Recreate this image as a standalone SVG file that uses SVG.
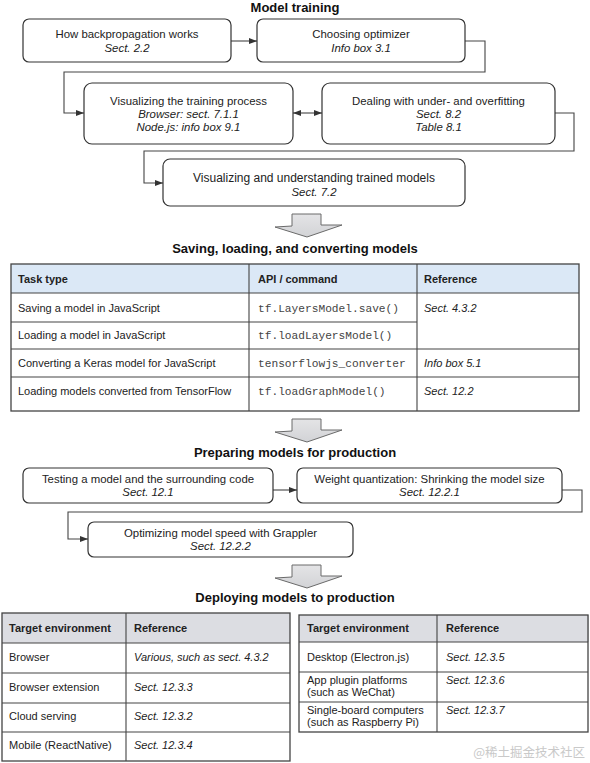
<svg xmlns="http://www.w3.org/2000/svg" width="590" height="763" viewBox="0 0 590 763">
<defs>
<marker id="ah" markerWidth="8" markerHeight="6" refX="8" refY="3" orient="auto" markerUnits="userSpaceOnUse">
<path d="M0,0 L8,3 L0,6 Z" fill="#333"/>
</marker>
<marker id="ahs" markerWidth="8" markerHeight="6" refX="0" refY="3" orient="auto" markerUnits="userSpaceOnUse">
<path d="M8,0 L0,3 L8,6 Z" fill="#333"/>
</marker>
<linearGradient id="bg" x1="0" y1="0" x2="0" y2="1">
<stop offset="0" stop-color="#e4e4e6"/>
<stop offset="1" stop-color="#d2d3d6"/>
</linearGradient>
</defs>
<style>
text{font-family:"Liberation Sans",Arial,sans-serif;font-size:11px;fill:#222}
.t{font-weight:bold;font-size:13px;text-anchor:middle;fill:#111}
.c{text-anchor:middle;font-size:11.4px}
.i{font-style:italic}
.b{font-weight:bold}
.m{font-family:"Liberation Mono","Courier New",monospace;font-size:11.2px;fill:#444}
.box{fill:#fff;stroke:#333;stroke-width:1.2}
.con{fill:none;stroke:#444;stroke-width:1.1}
.grid{fill:none;stroke:#444;stroke-width:1.1}
.big{fill:url(#bg);stroke:#6a6a6a;stroke-width:1}
</style>
<rect width="590" height="763" fill="#fff"/>

<text class="t" x="295" y="12">Model training</text>
<text class="t" x="295" y="253">Saving, loading, and converting models</text>
<text class="t" x="295" y="457">Preparing models for production</text>
<text class="t" x="295" y="602">Deploying models to production</text>

<g id="connectors">
<path class="con" d="M231,41 H257" marker-end="url(#ah)"/>
<path class="con" d="M465,41 H485 V72 H64 V113 H84" marker-end="url(#ah)"/>
<path class="con" d="M293,113 H322" marker-start="url(#ahs)" marker-end="url(#ah)"/>
<path class="con" d="M555,113 H574 V151 H144 V183 H163" marker-end="url(#ah)"/>
<path class="con" d="M273,490 H297" marker-end="url(#ah)"/>
<path class="con" d="M562,490 H582 V512 H68 V539 H88" marker-end="url(#ah)"/>
</g>

<g id="n1"><rect class="box" x="23" y="19" width="208" height="43" rx="6"/>
<text class="c" x="127" y="38">How backpropagation works</text>
<text class="c i" x="127" y="52">Sect. 2.2</text></g>

<g id="n2"><rect class="box" x="257" y="19" width="208" height="43" rx="6"/>
<text class="c" x="361" y="38">Choosing optimizer</text>
<text class="c i" x="361" y="52">Info box 3.1</text></g>

<g id="n3"><rect class="box" x="84" y="83" width="209" height="61" rx="8"/>
<text class="c" x="188.5" y="105">Visualizing the training process</text>
<text class="c i" x="188.5" y="118">Browser: sect. 7.1.1</text>
<text class="c i" x="188.5" y="131">Node.js: info box 9.1</text></g>

<g id="n4"><rect class="box" x="322" y="83" width="233" height="61" rx="8"/>
<text class="c" x="438.5" y="105">Dealing with under- and overfitting</text>
<text class="c i" x="438.5" y="118">Sect. 8.2</text>
<text class="c i" x="438.5" y="131">Table 8.1</text></g>

<g id="n5"><rect class="box" x="163" y="159" width="302" height="47" rx="7"/>
<text class="c" x="314" y="182" style="font-size:12px">Visualizing and understanding trained models</text>
<text class="c i" x="314" y="196">Sect. 7.2</text></g>

<g id="arrow1"><polygon class="big" points="292,214 321,214 321,225 342,225 307,237 275,227 292,226"/></g>

<g id="table1">
<rect x="11" y="264" width="568" height="29" fill="#dbe8f6"/>
<rect class="grid" x="11" y="264" width="568" height="147" style="stroke-width:1.3"/>
<path class="grid" d="M11,293 H579 M11,322 H417 M11,349 H579 M11,377 H579 M249,264 V411 M417,264 V411"/>
<text class="b" x="18" y="283">Task type</text>
<text class="b" x="258" y="283">API / command</text>
<text class="b" x="424" y="283">Reference</text>
<text x="18" y="312">Saving a model in JavaScript</text>
<text class="m" x="258" y="312">tf.LayersModel.save()</text>
<text class="i" x="424" y="312">Sect. 4.3.2</text>
<text x="18" y="339">Loading a model in JavaScript</text>
<text class="m" x="258" y="339">tf.loadLayersModel()</text>
<text x="18" y="367">Converting a Keras model for JavaScript</text>
<text class="m" x="258" y="367">tensorflowjs_converter</text>
<text class="i" x="424" y="367">Info box 5.1</text>
<text x="18" y="395">Loading models converted from TensorFlow</text>
<text class="m" x="258" y="395">tf.loadGraphModel()</text>
<text class="i" x="424" y="395">Sect. 12.2</text>
</g>

<g id="arrow2"><polygon class="big" points="292,419 321,419 321,430 342,430 307,442 275,432 292,431"/></g>

<g id="n6"><rect class="box" x="23" y="468" width="250" height="35" rx="6"/>
<text class="c" x="148" y="483">Testing a model and the surrounding code</text>
<text class="c i" x="148" y="496">Sect. 12.1</text></g>

<g id="n7"><rect class="box" x="297" y="468" width="265" height="35" rx="6"/>
<text class="c" x="429.5" y="483">Weight quantization: Shrinking the model size</text>
<text class="c i" x="429.5" y="496">Sect. 12.2.1</text></g>

<g id="n8"><rect class="box" x="88" y="522" width="265" height="35" rx="6"/>
<text class="c" x="220.5" y="537">Optimizing model speed with Grappler</text>
<text class="c i" x="220.5" y="550">Sect. 12.2.2</text></g>

<g id="arrow3"><polygon class="big" points="292,565 321,565 321,576 342,576 307,588 275,578 292,577"/></g>

<g id="table2">
<rect x="2" y="613" width="288" height="30" fill="#dcdde2"/>
<rect class="grid" x="2" y="613" width="288" height="148" style="stroke-width:1.3"/>
<path class="grid" d="M2,643 H290 M2,673 H290 M2,703 H290 M2,732 H290 M126,613 V761"/>
<text class="b" x="9" y="632">Target environment</text>
<text class="b" x="134" y="632">Reference</text>
<text x="9" y="661">Browser</text>
<text class="i" x="134" y="661">Various, such as sect. 4.3.2</text>
<text x="9" y="691">Browser extension</text>
<text class="i" x="134" y="691">Sect. 12.3.3</text>
<text x="9" y="720">Cloud serving</text>
<text class="i" x="134" y="720">Sect. 12.3.2</text>
<text x="9" y="749">Mobile (ReactNative)</text>
<text class="i" x="134" y="749">Sect. 12.3.4</text>
</g>

<g id="table3">
<rect x="299" y="615" width="290" height="27" fill="#dcdde2"/>
<rect class="grid" x="299" y="615" width="289" height="117" style="stroke-width:1.3"/>
<path class="grid" d="M299,642 H588 M299,672 H588 M299,702 H588 M437,615 V732"/>
<text class="b" x="307" y="632">Target environment</text>
<text class="b" x="446" y="632">Reference</text>
<text x="307" y="661">Desktop (Electron.js)</text>
<text class="i" x="446" y="661">Sect. 12.3.5</text>
<text x="307" y="684">App plugin platforms</text>
<text x="307" y="696">(such as WeChat)</text>
<text class="i" x="446" y="684">Sect. 12.3.6</text>
<text x="307" y="714">Single-board computers</text>
<text x="307" y="726">(such as Raspberry Pi)</text>
<text class="i" x="446" y="714">Sect. 12.3.7</text>
</g>

<text x="585" y="757" text-anchor="end" style="font-family:'Noto Sans CJK SC',sans-serif;font-size:12.5px;fill:#c9c9c9">@稀土掘金技术社区</text>
</svg>
